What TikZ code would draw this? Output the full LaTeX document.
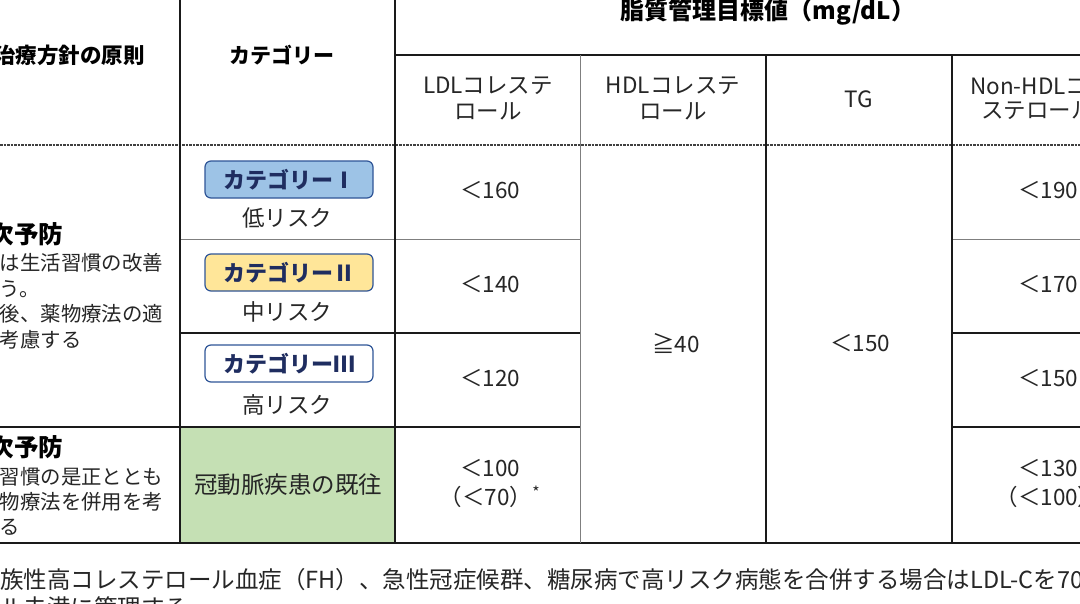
\documentclass[tikz,border=0pt]{standalone}
\usepackage{fontspec}
\setmainfont{Noto Sans CJK JP}
\definecolor{catone}{HTML}{9DC3E6}
\definecolor{cattwo}{HTML}{FFE699}
\definecolor{catedge}{HTML}{2F5597}
\definecolor{cattext}{HTML}{1F2D60}
\definecolor{cellgreen}{HTML}{C5E0B4}
\definecolor{darkline}{HTML}{1A1A1A}
\definecolor{greyline}{HTML}{7F7F7F}
\newcommand\fsz[1]{\fontsize{#1}{#1}\selectfont}
\begin{document}
\begin{tikzpicture}[x=1pt,y=-1pt,
  darkrule/.style={draw=darkline,line width=1.6pt},
  heavyrule/.style={draw=darkline,line width=2.2pt},
  greyrule/.style={draw=greyline,line width=1pt},
  dashrule/.style={draw=black!75,line width=2pt,dash pattern=on 2.5pt off 1pt},
  plain/.style={inner sep=0pt,text=black!85,font=\fsz{22.5}},
  headb/.style={inner sep=0pt,text=black,font=\fsz{21}\bfseries},
  side/.style={inner sep=0pt,anchor=west,text=black!85,font=\fsz{20.4}},
  sidehead/.style={inner sep=0pt,anchor=west,text=black,font=\fsz{24.5}\bfseries},
  catbox/.style={draw=catedge,line width=1.2pt,rounded corners=6pt,minimum width=168pt,minimum height=37pt,inner sep=0pt,text=cattext,font=\fsz{22}\bfseries},
  val/.style={inner sep=0pt,text=black!85,font=\fsz{22.5}},
  note/.style={inner sep=0pt,anchor=west,text=black!85,font=\fsz{23.5}}
]
\useasboundingbox (0,0) rectangle (1080,603);
\fill[white] (0,0) rectangle (1080,603);
\clip (0,0) rectangle (1080,603);
% green cell
\fill[cellgreen] (180,427) rectangle (395,543);
% horizontal rules
\draw[heavyrule] (395,55) -- (1080,55);
\draw[dashrule] (0,145) -- (1080,145);
\draw[greyrule] (180,239) -- (580,239);
\draw[greyrule] (952,239) -- (1080,239);
\draw[darkrule] (180,333) -- (580,333);
\draw[darkrule] (952,333) -- (1080,333);
\draw[darkrule] (0,427) -- (580,427);
\draw[darkrule] (952,427) -- (1080,427);
\draw[darkrule] (0,543) -- (1080,543);
% vertical rules
\draw[darkrule] (180,0) -- (180,543);
\draw[darkrule] (395,0) -- (395,543);
\draw[greyrule] (580,55) -- (580,543);
\draw[darkrule] (766,55) -- (766,543);
\draw[darkrule] (952,55) -- (952,543);
% header texts
\node[headb,font=\fsz{24}\bfseries] (title) at (768,12) {脂質管理目標値（mg/dL）};
\node[headb,anchor=east,font=\fsz{21.5}\bfseries] (policy) at (145,55) {治療方針の原則};
\node[headb] (cathead) at (282,55) {カテゴリー};
\node[plain] (ldla) at (488,86) {LDLコレステ};
\node[plain] (ldlb) at (488,111) {ロール};
\node[plain] (hdla) at (673,86) {HDLコレステ};
\node[plain] (hdlb) at (673,111) {ロール};
\node[plain] (tg) at (859,99) {TG};
\node[plain,anchor=west] (nhdla) at (970,86) {Non-HDLコレ};
\node[plain,anchor=west] (nhdlb) at (981,111) {ステロール};
% left column
\node[sidehead] (prim) at (-35,234) {一次予防};
\node[side] (p1) at (-41,263) {まずは生活習慣の改善};
\node[side] (p2) at (-41,289) {を行う。};
\node[side] (p3) at (-41,314) {その後、薬物療法の適};
\node[side] (p4) at (-41,340) {用を考慮する};
\node[sidehead] (sec) at (-35,447) {二次予防};
\node[side] (s1) at (-41,477) {生活習慣の是正ととも};
\node[side] (s2) at (-41,502) {に薬物療法を併用を考};
\node[side] (s3) at (-41,527) {慮する};
% categories
\node[catbox,fill=catone] (c1) at (289,179.5) {カテゴリーⅠ};
\node[plain] (r1) at (287,218) {低リスク};
\node[catbox,fill=cattwo] (c2) at (289,272.5) {カテゴリーⅡ};
\node[plain] (r2) at (287,312) {中リスク};
\node[catbox,fill=white] (c3) at (289,363.5) {カテゴリーⅢ};
\node[plain] (r3) at (287,405) {高リスク};
\node[plain,font=\fsz{23.5}] (cad) at (288,485) {冠動脈疾患の既往};
% LDL values
\node[val] (l1) at (490,190) {＜160};
\node[val] (l2) at (490,284) {＜140};
\node[val] (l3) at (490,378) {＜120};
\node[val] (l4) at (490,468) {＜100};
\node[val] (l5) at (490,497) {（＜70）\textsuperscript{*}};
% HDL, TG
\node[val] (hdl) at (676,343) {≧40};
\node[val] (tgv) at (860,343) {＜150};
% Non-HDL values
\node[val] (n1) at (1048,190) {＜190};
\node[val] (n2) at (1048,284) {＜170};
\node[val] (n3) at (1048,378) {＜150};
\node[val] (n4) at (1048,468) {＜130};
\node[val] (n5) at (1048,497) {（＜100）};
% footnote
\node[note] (fn1) at (-23.5,581) {家族性高コレステロール血症（FH）、急性冠症候群、糖尿病で高リスク病態を合併する場合はLDL-Cを70mg/dL};
\node[note] (fn2) at (0,608) {ル未満に管理する};
\end{tikzpicture}
\end{document}
